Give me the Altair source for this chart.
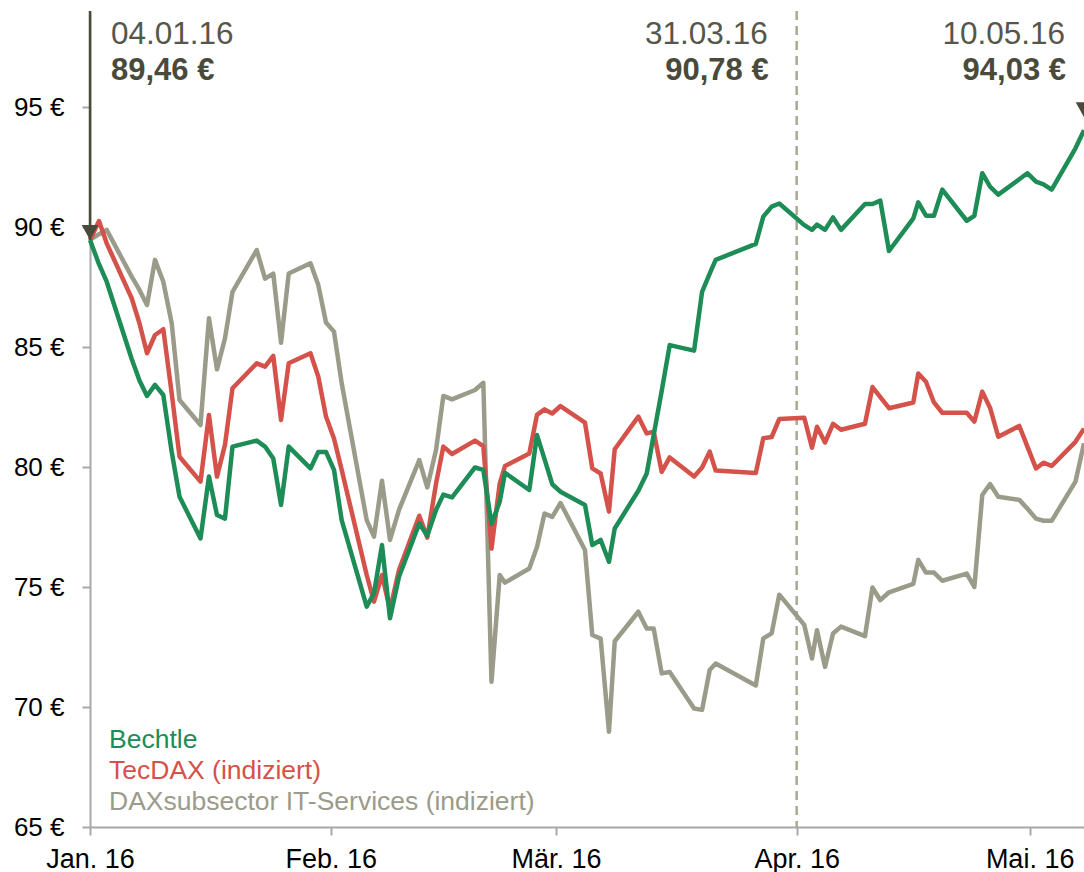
import altair as alt
import pandas as pd

# x position: days on the chart's time axis (0 = left edge / Jan. 16)
tage = [0, 1.16, 2.15, 5.37, 6.37, 7.34, 8.37, 9.44, 10.52, 11.53,
        14.23, 15.32, 16.35, 17.38, 18.35, 21.47, 22.54, 23.60, 24.60, 25.59,
        28.39, 29.40, 30.39, 31.42, 32.41, 35.63, 36.57, 37.60, 38.63, 39.79,
        42.40, 43.43, 44.56, 45.50, 46.62, 49.58, 50.65, 51.70, 52.76, 53.44,
        56.57, 57.56, 58.53, 59.53, 60.59, 63.74, 64.68, 65.76, 66.83, 67.57,
        70.61, 71.69, 72.59, 73.62, 74.65, 77.79, 78.82, 79.80, 80.57, 85.74,
        86.70, 87.78, 88.76, 91.98, 92.97, 93.62, 94.65, 95.68, 96.71, 99.80,
        100.76, 101.77, 102.89, 106.02, 106.66, 107.65, 108.68, 109.75, 112.90, 113.88,
        114.90, 115.90, 116.96, 119.67, 120.70, 121.82, 122.78, 123.84, 126.90, 128.0]

bechtle = [89.46, 88.45, 87.72, 84.5, 83.6, 82.96, 83.42, 83.0, 80.63, 78.76,
           77.02, 79.6, 78.0, 77.85, 80.85, 81.1, 80.85, 80.35, 78.42, 80.85,
           79.94, 80.63, 80.63, 79.88, 77.79, 74.18, 74.74, 76.75, 73.7, 75.43,
           77.65, 77.13, 78.21, 78.85, 78.73, 79.98, 79.88, 77.63, 78.55, 79.76,
           79.04, 81.33, 80.33, 79.28, 78.97, 78.42, 76.75, 76.96, 76.05, 77.44,
           79.01, 79.73, 81.34, 83.17, 85.08, 84.85, 87.3, 88.06, 88.63, 89.3,
           90.43, 90.85, 90.98, 90.08, 89.88, 90.1, 89.88, 90.4, 89.88, 90.96,
           90.96, 91.1, 89.0, 90.36, 91.03, 90.47, 90.47, 91.56, 90.26, 90.46,
           92.24, 91.68, 91.35, 91.99, 92.24, 91.89, 91.78, 91.56, 93.28, 94.03]

tecdax = [89.46, 90.25, 89.32, 87.03, 85.99, 84.74, 85.5, 85.74, 83.07, 80.43,
          79.39, 82.17, 79.6, 80.92, 83.28, 84.32, 84.18, 84.63, 81.96, 84.32,
          84.74, 83.76, 82.1, 81.19, 79.88, 75.5, 74.39, 75.5, 74.05, 75.71,
          77.97, 77.06, 79.31, 80.85, 80.54, 81.1, 80.87, 76.6, 79.31, 80.04,
          80.56, 82.17, 82.4, 82.23, 82.54, 81.85, 79.94, 79.73, 78.14, 80.74,
          82.1, 81.4, 81.47, 79.8, 80.4, 79.6, 79.98, 80.64, 79.85, 79.75,
          81.2, 81.25, 82.0, 82.05, 80.8, 81.68, 81.02, 81.8, 81.55, 81.8,
          83.33, 82.91, 82.45, 82.69, 83.9, 83.55, 82.69, 82.26, 82.26, 81.89,
          83.14, 82.47, 81.26, 81.71, 80.86, 79.94, 80.18, 80.04, 81.05, 81.6]

itservices = [89.46, 89.7, 89.88, 87.93, 87.38, 86.75, 88.63, 87.72, 85.99, 82.79,
              81.75, 86.2, 84.07, 85.36, 87.3, 89.04, 87.85, 88.06, 85.18, 88.06,
              88.49, 87.58, 86.02, 85.64, 83.49, 77.79, 77.1, 79.43, 76.96, 78.21,
              80.29, 79.15, 80.71, 82.96, 82.82, 83.21, 83.51, 71.05, 75.5, 75.18,
              75.77, 76.67, 78.06, 77.92, 78.5, 76.54, 73.0, 72.85, 68.97, 72.74,
              73.97, 73.27, 73.27, 71.4, 71.46, 69.94, 69.88, 71.54, 71.81, 70.9,
              72.86, 73.07, 74.68, 73.42, 72.02, 73.2, 71.67, 73.06, 73.35, 72.95,
              74.98, 74.45, 74.78, 75.13, 76.13, 75.6, 75.6, 75.26, 75.56, 75.0,
              78.83, 79.29, 78.76, 78.63, 78.27, 77.85, 77.76, 77.76, 79.39, 80.99]

serien = ["Bechtle", "TecDAX (indiziert)", "DAXsubsector IT-Services (indiziert)"]
farben = ["#1e8c56", "#d4524a", "#9b9b8a"]
werte = [bechtle, tecdax, itservices]

# x axis ticks (month starts on the chart's day axis) and their labels
tick_tage = [0, 31, 60, 91, 121]
tick_labels = ["Jan. 16", "Feb. 16", "Mär. 16", "Apr. 16", "Mai. 16"]
y_ticks = [65, 70, 75, 80, 85, 90, 95]

# annotations: date label, value, position on day axis
ann_datum = ["04.01.16", "31.03.16", "10.05.16"]
ann_wert = [89.46, 90.78, 94.03]
ann_tag = [0, 91, 128]

FONT = "Liberation Sans"
DARK = "#4a4a3a"
TXT = "#56564a"
AXIS = "#a8a8a8"

ann_df = pd.DataFrame({
    "Tag": ann_tag,
    "Wert": ann_wert,
    "Datum": ann_datum,
    "Label": [f"{v:.2f}".replace(".", ",") + " €" for v in ann_wert],
})

lbl_js = "[" + ",".join(f"'{s}'" for s in tick_labels) + "]"
val_js = "[" + ",".join(str(v) for v in tick_tage) + "]"

x_scale = alt.Scale(domain=[0, 128], nice=False, zero=False)
y_scale = alt.Scale(domain=[65, 99], nice=False, zero=False)

x_axis = alt.Axis(values=tick_tage, labelExpr=f"{lbl_js}[indexof({val_js}, datum.value)]",
                  title=None, grid=False, tickSize=8, tickWidth=2, tickColor=AXIS,
                  domainColor=AXIS, domainWidth=2, labelFont=FONT, labelFontSize=27,
                  labelColor="#000000", labelPadding=11, labelFlush=False,
                  labelOverlap=False)
y_axis = alt.Axis(values=y_ticks, labelExpr="datum.value + ' €'", title=None, grid=False,
                  tickSize=8, tickWidth=2, tickColor=AXIS, domainColor=AXIS, domainWidth=2,
                  labelFont=FONT, labelFontSize=26, labelColor="#000000", labelPadding=18)

X = alt.X("Tag:Q", scale=x_scale, axis=x_axis)
Y = alt.Y("Wert:Q", scale=y_scale, axis=y_axis)

layers = []

ann_first = ann_df.iloc[[0]]
ann_mid = ann_df.iloc[[1]]
ann_last = ann_df.iloc[[2]]

# dashed marker line at month change
layers.append(
    alt.Chart(ann_mid).mark_rule(color="#a9a995", strokeWidth=2.5, strokeDash=[9, 6])
    .encode(x=X, y=alt.value(0), y2=alt.value(816))
)

# draw grey first, then red, green on top
for i in [2, 1, 0]:
    d = pd.DataFrame({"Tag": tage, "Wert": werte[i], "Serie": serien[i]})
    layers.append(
        alt.Chart(d).mark_line(color=farben[i], strokeWidth=4.5, strokeJoin="round")
        .encode(x=X, y=Y)
    )

# start arrow
layers.append(
    alt.Chart(ann_first).mark_rule(color=DARK, strokeWidth=2.5)
    .encode(x=X, y=Y, y2=alt.value(0))
)
tri = "M-1,-1.8L1,-1.8L0,0Z"
layers.append(
    alt.Chart(ann_first).mark_point(shape=tri, size=275, filled=True, color=DARK,
                                    opacity=1, strokeWidth=0)
    .encode(x=X, y=Y)
)
layers.append(
    alt.Chart(ann_last).mark_point(shape=tri, size=275, filled=True, color=DARK,
                                   opacity=1, strokeWidth=0, yOffset=-13)
    .encode(x=X, y=Y)
)

# annotation texts: (row, align, dx for date, dx for value)
for row, align, dx_d, dx_v in [(ann_first, "left", 21, 21),
                               (ann_mid, "right", -29, -28),
                               (ann_last, "right", -19, -18)]:
    layers.append(
        alt.Chart(row).mark_text(align=align, baseline="alphabetic", dx=dx_d, font=FONT,
                                 fontSize=31.5, color=TXT)
        .encode(x=X, y=alt.value(32.5), text="Datum:N")
    )
    layers.append(
        alt.Chart(row).mark_text(align=align, baseline="alphabetic", dx=dx_v, font=FONT,
                                 fontSize=31, fontWeight="bold", color=DARK)
        .encode(x=X, y=alt.value(69), text="Label:N")
    )

# legend as coloured text
for i, name in enumerate(serien):
    layers.append(
        alt.Chart(pd.DataFrame({"Serie": [name]})).mark_text(
            align="left", baseline="alphabetic", font=FONT, fontSize=26.5, color=farben[i])
        .encode(x=alt.value(19), y=alt.value(737 + 31 * i), text="Serie:N")
    )

chart = alt.layer(*layers).properties(
    width=994, height=816,
    padding={"left": 90, "top": 11, "right": 0, "bottom": 45},
    autosize=alt.AutoSizeParams(type="none"),
).configure_view(stroke=None)

chart.save("out.html", embed_options={"renderer": "svg", "actions": False})
